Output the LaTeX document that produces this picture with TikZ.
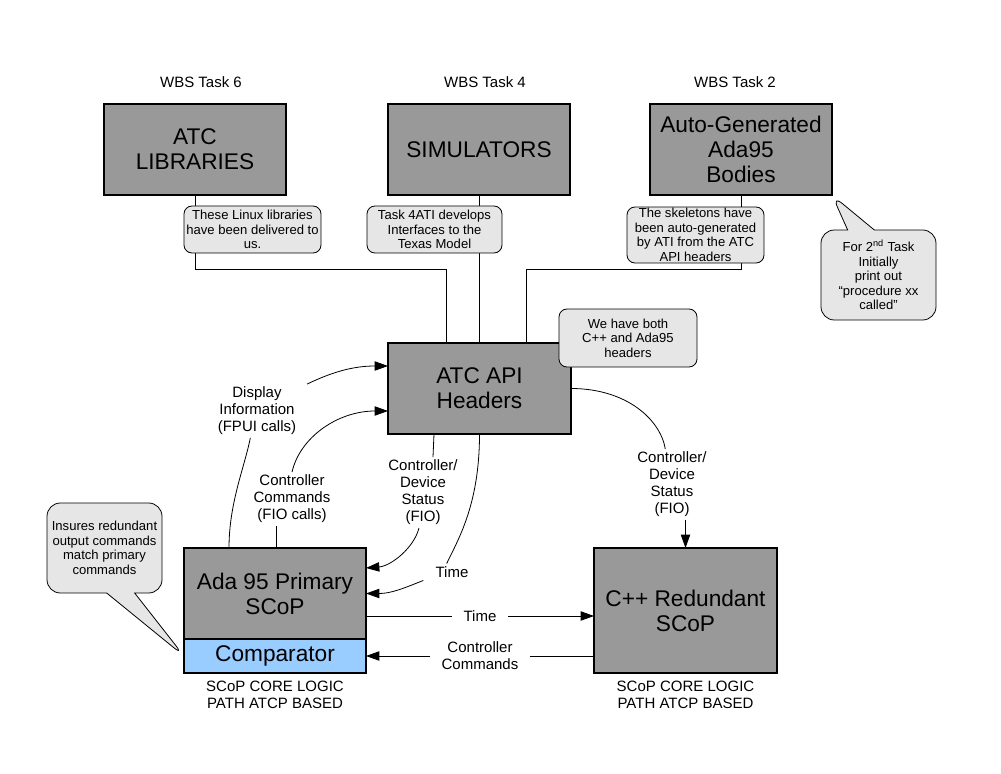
\documentclass[tikz,border=0pt]{standalone}
\usepackage{fontspec}
\setmainfont{Liberation Sans}
\usetikzlibrary{positioning,calc,arrows.meta,shapes.callouts}

\definecolor{boxgray}{RGB}{153,153,153}
\definecolor{notegray}{RGB}{230,230,230}
\definecolor{cmpblue}{RGB}{153,204,255}

\tikzset{
    box/.style={draw, line width=0.8pt, fill=boxgray, outer sep=0pt, align=center,
        minimum width=136.5pt, minimum height=68.25pt, font=\fontsize{17}{18.75}\selectfont},
    note/.style={draw, line width=0.6pt, fill=notegray, rounded corners=6pt, align=center,
        inner sep=1pt, font=\fontsize{9.8}{10.9}\selectfont},
    lbl/.style={align=center, inner sep=2pt, font=\fontsize{11.25}{12.75}\selectfont},
    wire/.style={line width=0.6pt},
    arr/.style={wire, -{Triangle[length=10pt,width=7pt]}}
}

\begin{document}
\begin{tikzpicture}[x=0.75pt,y=-0.75pt]
    \useasboundingbox (0,0) rectangle (1001,774);
    % boxes
    \node[box] (lib) at (195,149.5) {ATC\\LIBRARIES};
    \node[box] (sim) at (479,149.5) {SIMULATORS};
    \node[box] (gen) at (741,149.5) {Auto-Generated\\Ada95\\Bodies};
    \node[lbl] (wbs6) at (201,82) {WBS Task 6};
    \node[lbl] (wbs4) at (485,82) {WBS Task 4};
    \node[lbl] (wbs2) at (735,82) {WBS Task 2};
    \node[box, minimum width=137.25pt] (api) at (479.5,388.5) {ATC API\\Headers};
    \node[box] (ada) at (275,593.5) {Ada 95 Primary\\SCoP};
    \node[box, fill=cmpblue, minimum height=25.5pt, below=0pt of ada] (cmp) {Comparator};
    \node[box, minimum width=137.25pt, minimum height=93.75pt] (cpp) at (685.5,610.5) {C++ Redundant\\SCoP};
    \node[lbl, below=4pt of cmp] (core1) {SCoP CORE LOGIC\\PATH ATCP BASED};
    \node[lbl, below=4pt of cpp] (core2) {SCoP CORE LOGIC\\PATH ATCP BASED};

    % labels
    \node[lbl] (disp) at (257,411) {Display\\Information\\(FPUI calls)};
    \node[lbl] (cmdl) at (292,499) {Controller\\Commands\\(FIO calls)};
    \node[lbl] (stl) at (423,492.5) {Controller/\\Device\\Status\\(FIO)};
    \node[lbl] (tcv) at (452,572) {Time};
    \node[lbl] (str) at (672,484.5) {Controller/\\Device\\Status\\(FIO)};

    % connectors
    \draw[wire] (lib.south) -- ++(0,74) -| ($(api.north west)+(58,0)$);
    \draw[wire] (sim.south) -- (sim.south |- api.north);
    \draw[wire] (gen.south) -- ++(0,74) -| ($(api.north east)+(-45,0)$);
    \draw[wire] ($(ada.north west)+(45,0)$) .. controls +(0,-45) and +(-6,30) .. ([xshift=-5pt]disp.south);
    \draw[arr] ([xshift=6pt]disp.north east) .. controls +(25,-12) and +(-35,0) .. ($(api.north west)+(0,23)$);
    \draw[wire] ($(ada.north west)+(92,0)$) -- ($(cmdl.south)+(-16,0)$);
    \draw[arr] (cmdl.north) .. controls +(8,-35) and +(-50,0) .. ($(api.south west)+(0,-23)$);
    \draw[wire] ($(api.south west)+(46,0)$) -- ($(stl.north)+(10,0)$);
    \draw[arr] ($(stl.south)+(-4,0)$) .. controls +(-5,20) and +(25,-2) .. ($(ada.north east)+(0,20)$);
    \draw[wire] (api.south) .. controls +(0,70) and +(12,-25) .. ([xshift=-4pt]tcv.north);
    \draw[arr] ([xshift=-7pt]tcv.south west) .. controls +(-20,8) and +(25,0) .. (ada.east);
    \draw[arr] ($(ada.south east)+(0,-23)$) coordinate (t0) -- node[lbl, fill=white, inner xsep=9pt] (tst) {Time} (t0 -| cpp.west);
    \draw[arr] (cpp.west |- cmp.east) -- node[lbl, fill=white, inner xsep=9pt] (cst) {Controller\\Commands} (cmp.east);
    \draw[wire] (api.east) .. controls +(55,0) and +(-5,-30) .. ([xshift=-5pt]str.north);
    \draw[arr] (cpp.north |- str.south) -- (cpp.north);

    % notes
    \node[note, minimum width=102.75pt, minimum height=35.25pt] (n1) at (252.5,229.5) {These Linux libraries\\have been delivered to\\us.};
    \node[note, minimum width=101.25pt, minimum height=35.25pt] (n2) at (434.5,229.5) {Task 4ATI develops\\Interfaces to the\\Texas Model};
    \node[note, minimum width=102.75pt, minimum height=42pt] (n3) at (695.5,235) {The skeletons have\\been auto-generated\\by ATI from the ATC\\API headers};
    \node[note, minimum width=103.5pt, minimum height=43.5pt] (n4) at (628,338) {We have both\\C++ and Ada95\\headers};
    \node[note, rectangle callout, rounded corners=10pt, callout absolute pointer={(gen.south east)},
        callout pointer width=20pt, minimum width=86.25pt, minimum height=67.5pt] (n5) at (878.5,275)
        {For 2\textsuperscript{nd} Task\\Initially\\print out\\“procedure xx\\called”};
    \node[note, rectangle callout, rounded corners=10pt, callout absolute pointer={(cmp.west)},
        callout pointer width=21pt, minimum width=86.25pt, minimum height=67.5pt] (n6) at (104.5,548)
        {Insures redundant\\output commands\\match primary\\commands};
\end{tikzpicture}
\end{document}
